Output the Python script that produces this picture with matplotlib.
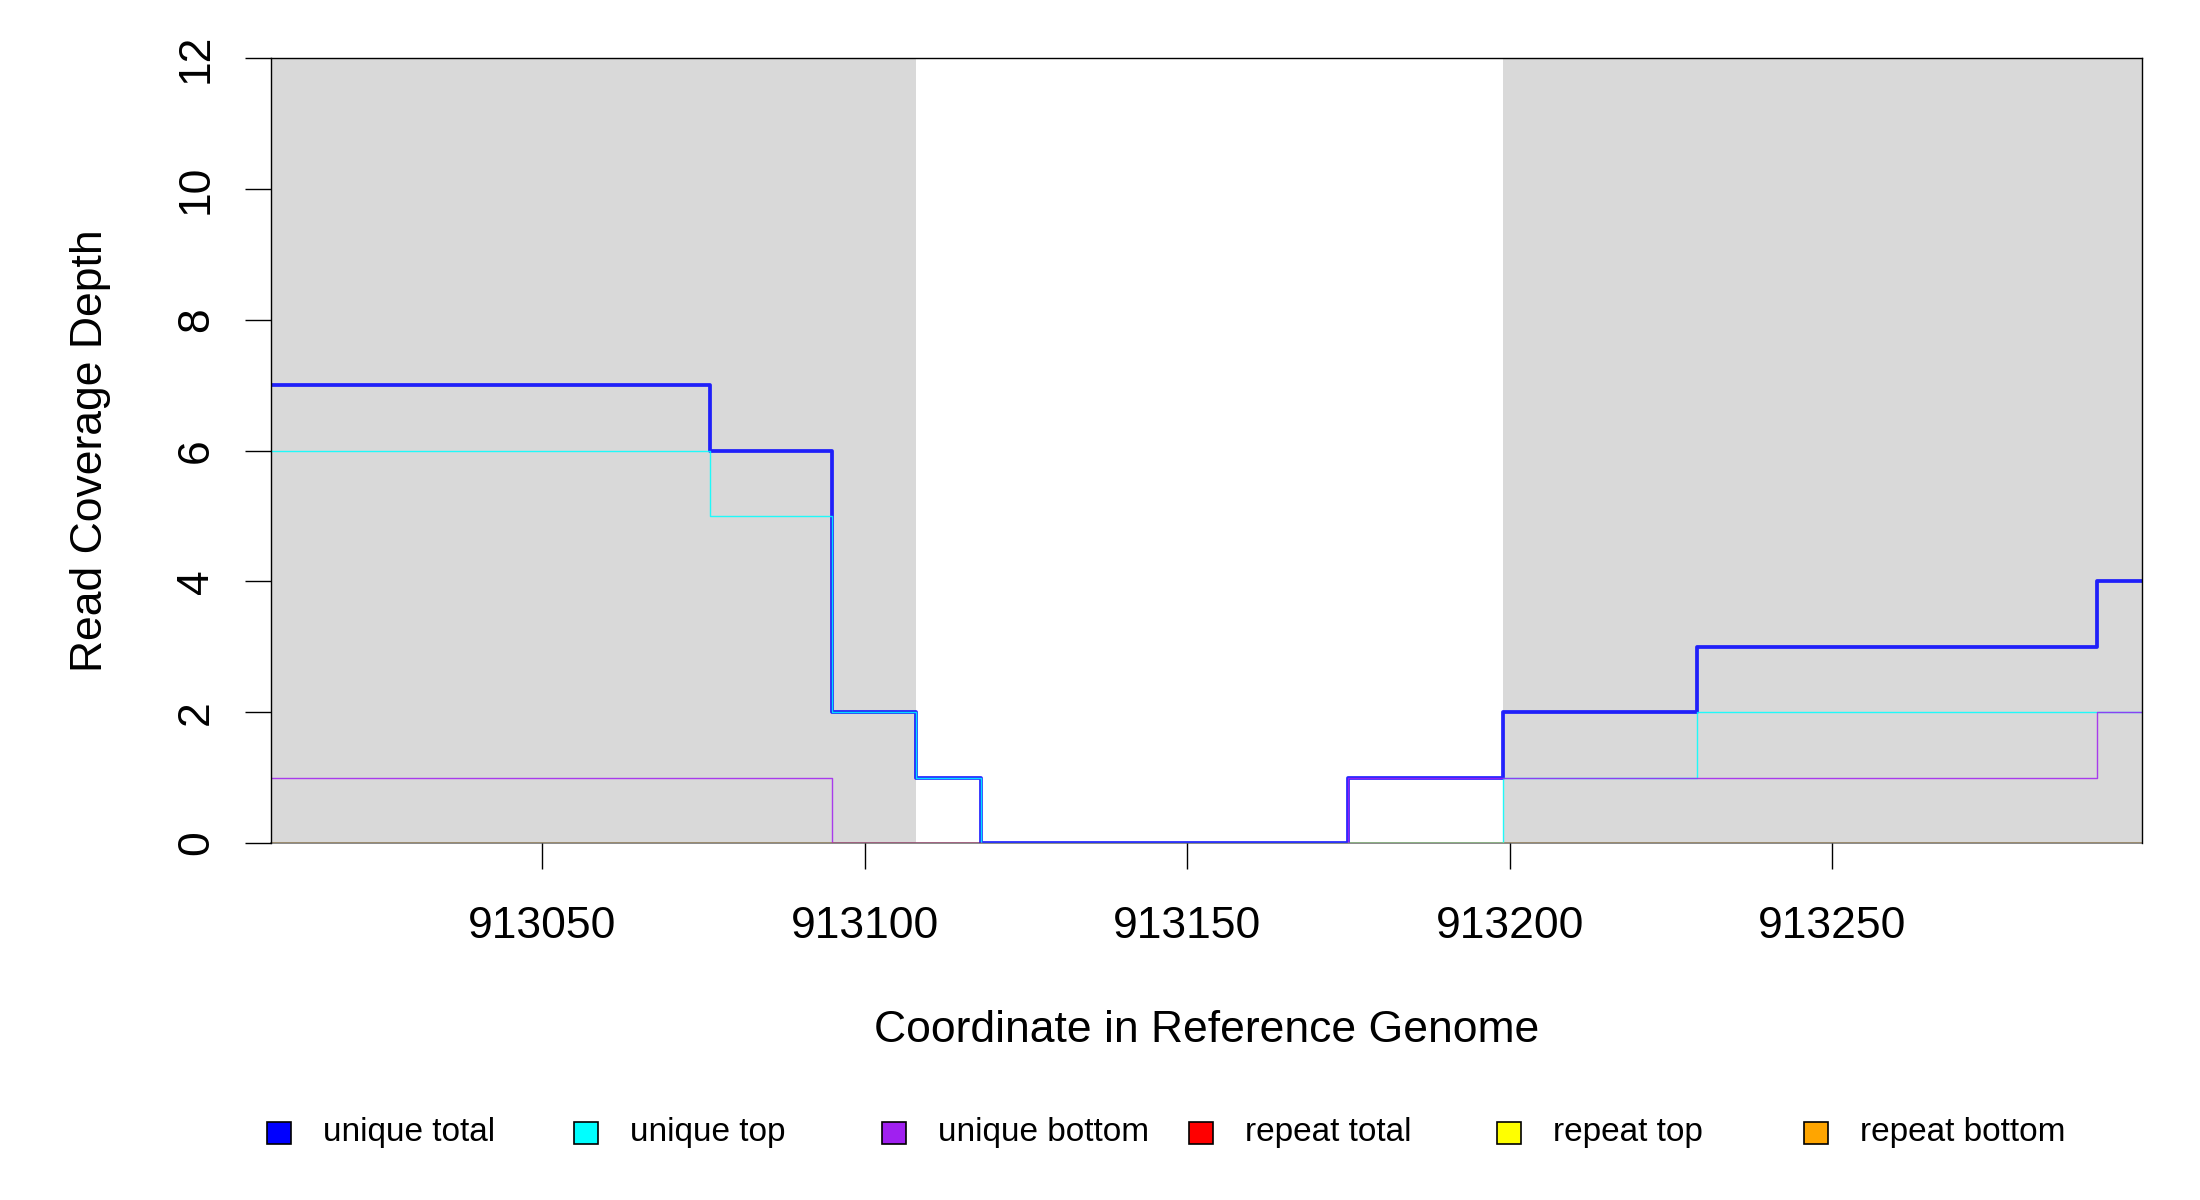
# Read coverage depth plot around 913000-913300

import numpy as np
import matplotlib
matplotlib.use('Agg')
import matplotlib.pyplot as plt
from matplotlib.patches import Rectangle

plt.rcParams['font.family'] = ['Liberation Sans', 'DejaVu Sans']

# step boundaries (each value holds from one break to the next)
breaks = [913008, 913076, 913095, 913108, 913118, 913175, 913199, 913229, 913291, 913298]
unique_total = [7, 6, 2, 1, 0, 1, 2, 3, 4]
unique_top = [6, 5, 2, 1, 0, 0, 1, 2, 2]
unique_bottom = [1, 1, 0, 0, 0, 1, 1, 1, 2]
nan = np.nan
repeat_total = [nan, nan, 0, 0, nan, nan, nan, nan, nan]
repeat_top = [nan, nan, nan, nan, nan, 0, nan, nan, nan]
repeat_bottom = [0, 0, nan, nan, nan, nan, 0, 0, 0]

# shaded feature regions
regions = [(913008, 913108), (913199, 913298)]

legend_labels = ['unique total', 'unique top', 'unique bottom',
                 'repeat total', 'repeat top', 'repeat bottom']
legend_colors = ['#0000FF', '#00FFFF', '#A020F0', '#FF0000', '#FFFF00', '#FFA500']

W, H = 2200, 1200
fig = plt.figure(figsize=(22, 12), dpi=100)
ax = fig.add_axes([271 / W, 1 - 843 / H, (2142 - 271) / W, (843 - 58) / H])

for a, b in regions:
    ax.axvspan(a, b, color='#D9D9D9', lw=0, zorder=0)

series = [unique_total, unique_top, unique_bottom, repeat_total, repeat_top, repeat_bottom]
widths = [2.7, 1.0, 1.0, 1.0, 1.0, 1.0]
for ys, col, lw in zip(series, legend_colors, widths):
    ax.step(breaks, list(ys) + [ys[-1]], where='post', color=col, lw=lw, alpha=0.85, zorder=2)

ax.set_xlim(breaks[0], breaks[-1])
ax.set_ylim(0, 12)
ax.set_xticks([913050, 913100, 913150, 913200, 913250])
ax.set_yticks(range(0, 13, 2))
ax.tick_params(axis='both', direction='out', length=19, width=1.0, labelsize=32)
ax.tick_params(axis='x', pad=26)
ax.tick_params(axis='y', pad=20, labelrotation=90)
for lab in ax.get_yticklabels():
    lab.set_va('center')

for s in ['left', 'top', 'right']:
    ax.spines[s].set_linewidth(1.0)
    ax.spines[s].set_color('black')
ax.spines['bottom'].set_color('#777777')
ax.spines['bottom'].set_linewidth(1.2)
ax.spines['bottom'].set_zorder(1)

ax.set_xlabel('Coordinate in Reference Genome', fontsize=32)
ax.xaxis.set_label_coords(0.5, (843 - 1030) / 785)
ax.xaxis.label.set_va('center')
ax.set_ylabel('Read Coverage Depth', fontsize=32)
ax.yaxis.set_label_coords((91 - 271) / 1871, 0.5)
ax.yaxis.label.set_va('center')

# legend across the bottom, equal spacing
for i, (lab, col) in enumerate(zip(legend_labels, legend_colors)):
    cx = 279 + i * 307.4
    cy = 1133
    fig.add_artist(Rectangle(((cx - 12) / W, 1 - (cy + 11) / H), 24 / W, 22 / H,
                             facecolor=col, edgecolor='black', lw=1.2,
                             transform=fig.transFigure))
    fig.text((cx + 44) / W, 1 - cy / H, lab, fontsize=24, va='center', ha='left')

fig.savefig('out.png', dpi=100, facecolor='white')
